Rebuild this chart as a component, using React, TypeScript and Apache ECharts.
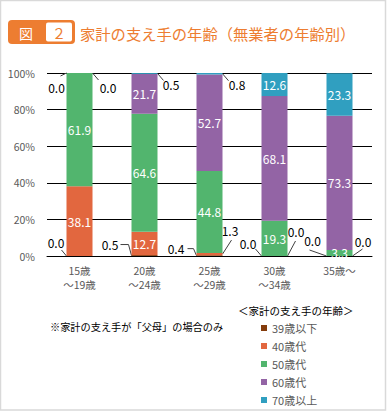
import React, { useEffect, useRef } from "react";
import * as echarts from "echarts";

const categories = ["15歳\n～19歳", "20歳\n～24歳", "25歳\n～29歳", "30歳\n～34歳", "35歳～"];
const seriesNames = ["39歳以下", "40歳代", "50歳代", "60歳代", "70歳以上"];
const s39 = [0.0, 0.5, 0.4, 0.0, 0.0];
const s40 = [38.1, 12.7, 1.3, 0.0, 0.0];
const s50 = [61.9, 64.6, 44.8, 19.3, 3.3];
const s60 = [0.0, 21.7, 52.7, 68.1, 73.3];
const s70 = [0.0, 0.5, 0.8, 12.6, 23.3];
const yTicks = [0, 20, 40, 60, 80, 100];

const colors = ["#843C0C", "#E2673F", "#52B56E", "#9364A5", "#309FC0"];
const FONT = "'Noto Sans CJK JP', 'Noto Sans', sans-serif";

// outside labels: [seriesIndex, categoryIndex, side, labelDx, labelDy, line points relative to anchor]
type Out = { s: number; c: number; side: -1 | 1; lx: number; ly: number; pts: number[][] };
const outside: Out[] = [
  { s: 3, c: 0, side: -1, lx: -10, ly: 14, pts: [[-6, 3]] },
  { s: 4, c: 0, side: 1, lx: 15.5, ly: 14, pts: [[6, 7]] },
  { s: 0, c: 0, side: -1, lx: -10.5, ly: -14, pts: [[-5, -6]] },
  { s: 4, c: 1, side: 1, lx: 13.5, ly: 11, pts: [[6, 7]] },
  { s: 0, c: 1, side: -1, lx: -21.5, ly: -11, pts: [[-3, -11], [-11, -11]] },
  { s: 0, c: 2, side: -1, lx: -20.5, ly: -7, pts: [[-3, -7], [-9, -7]] },
  { s: 1, c: 2, side: 1, lx: 7.5, ly: -24, pts: [[9, -14]] },
  { s: 4, c: 2, side: 1, lx: 14.5, ly: 11, pts: [[6, 7]] },
  { s: 0, c: 3, side: -1, lx: -13.5, ly: -13, pts: [[-6, -7]] },
  { s: 1, c: 3, side: 1, lx: 8.5, ly: -25, pts: [[8, -15]] },
  { s: 0, c: 4, side: -1, lx: -14, ly: -16, pts: [[-17, -6]] },
  { s: 1, c: 4, side: 1, lx: 10.5, ly: -15, pts: [[10, -7]] },
];

const BAR_W = 26;

export default function App() {
  const ref = useRef<HTMLDivElement>(null);
  useEffect(() => {
    if (!ref.current) return;
    const chart = echarts.init(ref.current, null, { renderer: "svg" });
    const all = [s39, s40, s50, s60, s70];
    const isOut = (s: number, c: number) => outside.some((o) => o.s === s && o.c === c);
    const series = all.map((arr, si) => ({
      name: seriesNames[si],
      type: "bar",
      stack: "total",
      barWidth: BAR_W,
      itemStyle: { color: colors[si] },
      label: {
        show: true,
        position: "inside",
        color: "#ffffff",
        fontSize: 12,
        fontFamily: FONT,
        formatter: (p: any) => Number(p.value).toFixed(1),
      },
      data: arr.map((v, ci) => ({ value: v, label: { show: !isOut(si, ci) } })),
    }));
    const option: any = {
      animation: false,
      textStyle: { fontFamily: FONT },
      grid: { left: 47, right: 15, top: 73, bottom: 155 },
      legend: {
        orient: "vertical",
        left: 256,
        top: 316,
        height: 100,
        itemWidth: 6,
        itemHeight: 6,
        itemGap: 4,
        icon: "rect",
        textStyle: { color: "#595959", fontSize: 11, fontFamily: FONT, lineHeight: 14 },
        data: seriesNames,
      },
      xAxis: {
        type: "category",
        data: categories,
        axisLine: { lineStyle: { color: "#000", width: 1 } },
        axisTick: { show: false },
        axisLabel: { color: "#595959", fontSize: 10.5, fontFamily: FONT, lineHeight: 14, margin: 7 },
      },
      yAxis: {
        type: "value",
        min: yTicks[0],
        max: yTicks[yTicks.length - 1],
        interval: 20,
        axisLine: { show: false },
        axisTick: { show: false },
        splitLine: { lineStyle: { color: "#000", width: 1 } },
        axisLabel: { color: "#595959", fontSize: 10.5, fontFamily: FONT, margin: 12, formatter: "{value}%" },
      },
      series,
    };
    chart.setOption(option);

    const graphics: any[] = [
      { type: "rect", shape: { x: 0.5, y: 0.5, width: 385, height: 409.5 }, style: { fill: "none", stroke: "#d9d9d9", lineWidth: 1.5 }, silent: true },
      { type: "rect", shape: { x: 8, y: 20, width: 67, height: 24, r: 4 }, style: { fill: "#ED7D31" } },
      { type: "rect", shape: { x: 46, y: 22.5, width: 26, height: 19, r: 2 }, style: { fill: "#ffffff" } },
      { type: "text", x: 26, y: 32.5, style: { text: "図", fill: "#ffffff", fontSize: 14, fontFamily: FONT, align: "center", verticalAlign: "middle" } },
      { type: "text", x: 59, y: 32.5, style: { text: "２", fill: "#ED7D31", fontSize: 14, fontFamily: FONT, align: "center", verticalAlign: "middle" } },
      { type: "text", x: 80, y: 32.5, style: { text: "家計の支え手の年齢（無業者の年齢別）", fill: "#ED7D31", fontSize: 15.3, fontFamily: FONT, align: "left", verticalAlign: "middle" } },
      { type: "text", x: 238, y: 310, style: { text: "＜家計の支え手の年齢＞", fill: "#000", fontSize: 10.5, fontFamily: FONT, align: "left", verticalAlign: "middle" } },
      { type: "text", x: 50, y: 326, style: { text: "※家計の支え手が「父母」の場合のみ", fill: "#000", fontSize: 10.2, fontFamily: FONT, align: "left", verticalAlign: "middle" } },
    ];

    outside.forEach((o) => {
      const arr = all[o.s];
      let start = 0;
      for (let k = 0; k < o.s; k++) start += all[k][o.c];
      const mid = start + arr[o.c] / 2;
      const p = chart.convertToPixel({ gridIndex: 0 }, [o.c, mid]) as number[];
      const ax = p[0] + (o.side * BAR_W) / 2;
      const ay = p[1];
      const pts = [[ax, ay], ...o.pts.map((q) => [ax + q[0], ay + q[1]])];
      graphics.push({ type: "polyline", shape: { points: pts }, style: { stroke: "#404040", lineWidth: 1, fill: "none" }, silent: true });
      graphics.push({
        type: "text",
        x: ax + o.lx,
        y: ay + o.ly,
        style: { text: arr[o.c].toFixed(1), fill: "#000", fontSize: 12, fontFamily: FONT, align: "center", verticalAlign: "middle" },
      });
    });
    chart.setOption({ graphic: graphics });
    return () => chart.dispose();
  }, []);
  return <div ref={ref} style={{ position: "absolute", left: 0, top: 0, width: 387, height: 411, background: "#fff" }} />;
}
